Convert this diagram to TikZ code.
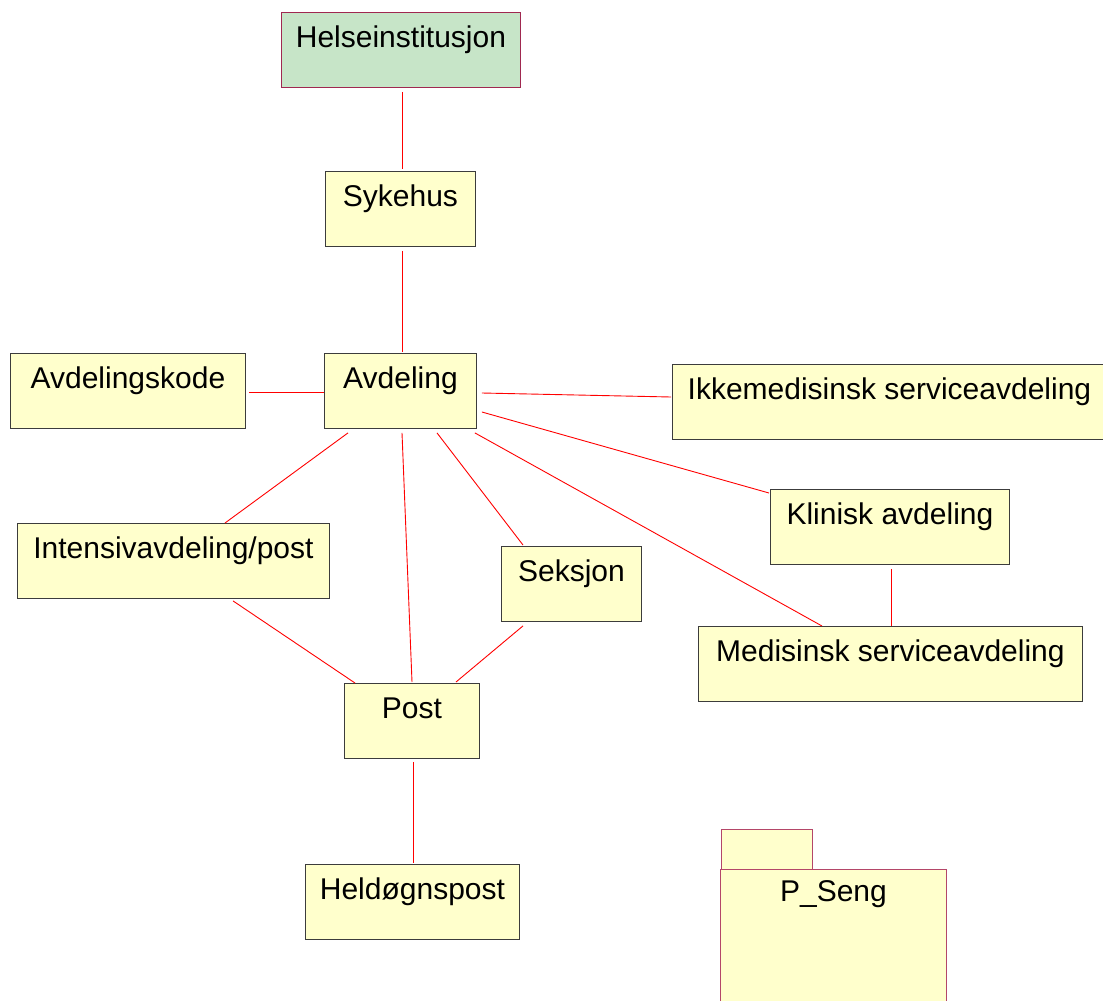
\documentclass[tikz,border=0pt]{standalone}
\usepackage{fontspec}
\setmainfont{Liberation Sans}
\usetikzlibrary{calc}
\definecolor{boxfill}{RGB}{255,255,204}
\definecolor{rootfill}{RGB}{199,229,200}
\definecolor{boxline}{RGB}{60,60,60}
\definecolor{rootline}{RGB}{160,40,80}
\definecolor{pkgline}{RGB}{180,70,105}
\definecolor{linkred}{RGB}{255,0,0}
\begin{document}
\begin{tikzpicture}[x=1pt,y=-1pt,
  entity/.style={rectangle, draw=boxline, fill=boxfill, line width=0.9pt,
    inner sep=0pt, anchor=north west, text height=35pt, text depth=40pt,
    font=\fontsize{30pt}{35pt}\selectfont},
  rootent/.style={entity, draw=rootline, fill=rootfill},
  pkg/.style={rectangle, draw=pkgline, fill=boxfill, line width=0.9pt,
    inner sep=0pt, anchor=north west},
  link/.style={draw=linkred, line width=0.9pt}]
\useasboundingbox (0,0) rectangle (1103,1001);
\clip (0,0) rectangle (1103,1001);

% entities
\node[rootent, minimum width=239pt] (helse) at (281,12) {Helseinstitusjon};
\node[entity, minimum width=150pt] (syk) at (325,171) {Sykehus};
\node[entity, minimum width=152pt] (avd) at (324,353) {Avdeling};
\node[entity, minimum width=235pt] (kode) at (10,353) {Avdelingskode};
\node[entity, minimum width=434pt] (ikke) at (672,364) {Ikkemedisinsk serviceavdeling};
\node[entity, minimum width=239pt] (klin) at (770,489) {Klinisk avdeling};
\node[entity, minimum width=384pt] (med) at (698,626) {Medisinsk serviceavdeling};
\node[entity, minimum width=312pt] (int) at (17,523) {Intensivavdeling/post};
\node[entity, minimum width=140pt] (seks) at (501,546) {Seksjon};
\node[entity, minimum width=135pt] (post) at (344,683) {Post};
\node[entity, minimum width=214pt] (held) at (305,864) {Heldøgnspost};

% package P_Seng
\node[pkg, minimum width=91pt, minimum height=40pt] (ptab) at (721,829) {};
\node[pkg, minimum width=226pt, text height=32pt, text depth=150pt,
  font=\fontsize{30pt}{35pt}\selectfont] (pseng) at (720,869) {P\_Seng};

% connectors
\draw[link] ($(helse.south west)+(121,4)$) -- ($(syk.north west)+(77,-2)$);
\draw[link] ($(syk.south west)+(77,4)$) -- ($(avd.north west)+(78,-1)$);
\draw[link] ($(kode.north east)+(3,39)$) -- ($(avd.north west)+(0,39)$);
\draw[link] ($(avd.north east)+(5,40)$) -- ($(ikke.north west)+(-1,33)$);
\draw[link] ($(avd.north east)+(5,59)$) -- ($(klin.north west)+(-1,4)$);
\draw[link] ($(avd.south east)+(-2,4)$) -- ($(med.north west)+(124,0)$);
\draw[link] ($(avd.south west)+(113,4)$) -- ($(seks.north west)+(22,-1)$);
\draw[link] ($(avd.south west)+(78,4)$) -- ($(post.north west)+(68,-1)$);
\draw[link] ($(avd.south west)+(24,4)$) -- ($(int.north west)+(208,0)$);
\draw[link] ($(int.south west)+(216,2)$) -- ($(post.north west)+(11,0)$);
\draw[link] ($(seks.south west)+(22,4)$) -- ($(post.north west)+(112,-1)$);
\draw[link] ($(post.south west)+(69,3)$) -- ($(held.north west)+(108,-1)$);
\draw[link] ($(klin.south west)+(121,4)$) -- ($(med.north west)+(193,0)$);
\end{tikzpicture}
\end{document}
